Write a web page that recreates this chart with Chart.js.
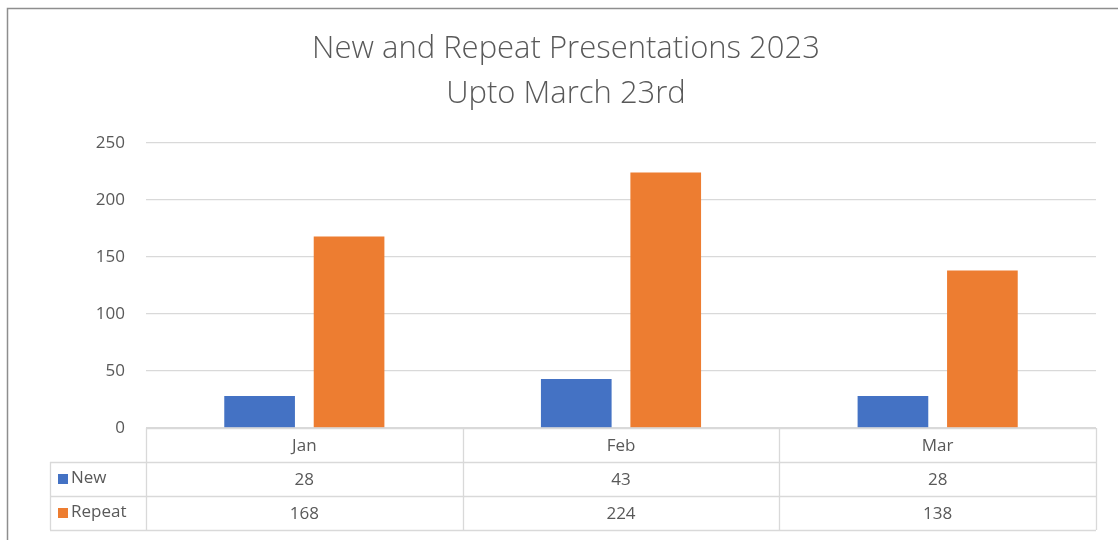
<!DOCTYPE html>
<html>
<head>
<meta charset="utf-8">
<script src="https://cdn.jsdelivr.net/npm/chart.js@4/dist/chart.umd.min.js"></script>
<style>
  body { margin: 0; background: #fff; }
  #wrap { width: 1118px; height: 540px; position: relative; }
</style>
</head>
<body>
<div id="wrap"><canvas id="presChart"></canvas></div>
<script>
  var months = ['Jan', 'Feb', 'Mar'];
  var newValues = [28, 43, 28];
  var repeatValues = [168, 224, 138];
  var seriesNames = ['New', 'Repeat'];
  var titleLines = ['New and Repeat Presentations 2023', 'Upto March 23rd'];

  var textColor = '#595959';
  var lineColor = '#d9d9d9';
  var fontFamily = '"Open Sans", "Noto Sans", sans-serif';

  // draws the chart frame and the data table under the plot
  var dataTable = {
    id: 'dataTable',
    beforeDraw: function(chart) {
      var ctx = chart.ctx;
      ctx.save();
      ctx.strokeStyle = '#8e8e8e';
      ctx.lineWidth = 1.5;
      ctx.beginPath();
      ctx.moveTo(7.5, 541);
      ctx.lineTo(7.5, 8.5);
      ctx.lineTo(1120, 8.5);
      ctx.stroke();
      ctx.restore();
    },
    afterDraw: function(chart) {
      var ctx = chart.ctx;
      var xs = chart.scales.x;
      var top = chart.chartArea.bottom;
      var rowH = 34;
      var tableLeft = 50;
      var left = xs.left, right = xs.right;
      var bottom = top + rowH * 3;
      var step = (right - left) / months.length;

      ctx.save();
      ctx.strokeStyle = lineColor;
      ctx.lineWidth = 1.3;
      ctx.beginPath();
      ctx.moveTo(left, top + 0.5);
      ctx.lineTo(right, top + 0.5);
      for (var r = 1; r <= 3; r++) {
        ctx.moveTo(tableLeft, top + rowH * r + 0.5);
        ctx.lineTo(right, top + rowH * r + 0.5);
      }
      for (var c = 0; c <= months.length; c++) {
        var x = Math.round(left + step * c) + 0.5;
        ctx.moveTo(x, top);
        ctx.lineTo(x, bottom);
      }
      ctx.moveTo(tableLeft + 0.5, top + rowH);
      ctx.lineTo(tableLeft + 0.5, bottom);
      ctx.stroke();

      ctx.font = '17px ' + fontFamily;
      ctx.fillStyle = textColor;
      ctx.textBaseline = 'middle';
      chart.data.datasets.forEach(function(ds, i) {
        var cy = top + rowH * (i + 1) + rowH / 2 + 1;
        ctx.fillStyle = ds.backgroundColor;
        ctx.fillRect(58, cy - 6, 10, 10);
        ctx.fillStyle = textColor;
        ctx.textAlign = 'left';
        ctx.fillText(ds.label, 71, cy - 2);
        ctx.textAlign = 'center';
        ds.data.forEach(function(v, j) {
          ctx.fillText(String(v), xs.getPixelForValue(j), cy);
        });
      });
      ctx.restore();
    }
  };

  new Chart(document.getElementById('presChart'), {
    type: 'bar',
    data: {
      labels: months,
      datasets: [
        {
          label: seriesNames[0],
          data: newValues,
          backgroundColor: '#4472C4',
          categoryPercentage: 0.565,
          barPercentage: 0.79
        },
        {
          label: seriesNames[1],
          data: repeatValues,
          backgroundColor: '#ED7D31',
          categoryPercentage: 0.565,
          barPercentage: 0.79
        }
      ]
    },
    options: {
      responsive: true,
      maintainAspectRatio: false,
      animation: false,
      layout: { padding: { left: 36, right: 22, top: 0, bottom: 0 } },
      plugins: {
        legend: { display: false },
        tooltip: { enabled: false },
        title: {
          display: true,
          text: titleLines,
          color: textColor,
          font: { family: fontFamily, size: 31, weight: '300', lineHeight: 1.45 },
          padding: { top: 27, bottom: 26 }
        }
      },
      scales: {
        x: {
          grid: { display: false },
          border: { display: false },
          ticks: {
            color: textColor,
            font: { family: fontFamily, size: 17 },
            padding: 0
          },
          afterFit: function(scale) { scale.height = 112; }
        },
        y: {
          min: 0,
          max: 250,
          grid: { color: lineColor, lineWidth: 1.3, drawTicks: false },
          border: { display: false },
          ticks: {
            stepSize: 50,
            color: textColor,
            font: { family: fontFamily, size: 17 },
            padding: 21
          },
          afterFit: function(scale) { scale.width = 110; }
        }
      }
    },
    plugins: [dataTable]
  });
</script>
</body>
</html>
